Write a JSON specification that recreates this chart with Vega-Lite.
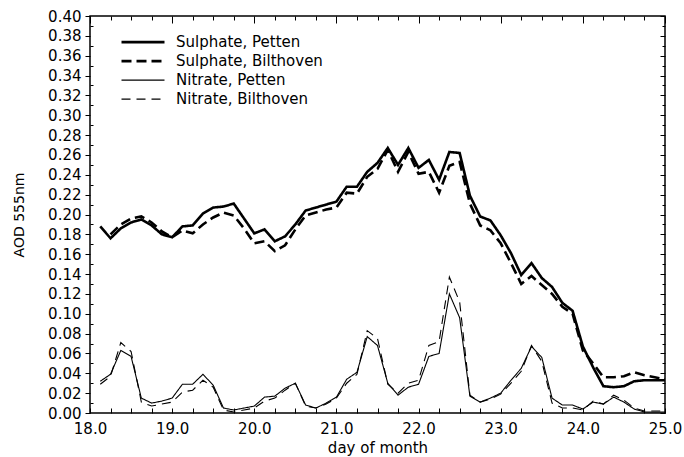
{
  "$schema": "https://vega.github.io/schema/vega-lite/v6.json",
  "width": 575,
  "height": 397,
  "autosize": {"type": "none"},
  "padding": {"left": 90, "top": 16, "right": 19, "bottom": 44},
  "background": "white",
  "config": {
    "view": {"stroke": "#000", "strokeWidth": 1.5},
    "font": "DejaVu Sans",
    "axis": {"labelFont": "DejaVu Sans", "titleFont": "DejaVu Sans", "labelColor": "#000", "titleColor": "#000", "tickColor": "#000", "domain": false, "grid": false, "titleFontWeight": "normal"},
    "legend": {"labelFont": "DejaVu Sans"}
  },
  "datasets": {
    "d": [
      {"day":18.125,"series":"Sulphate, Petten","aod":0.188},
      {"day":18.25,"series":"Sulphate, Petten","aod":0.176},
      {"day":18.375,"series":"Sulphate, Petten","aod":0.186},
      {"day":18.5,"series":"Sulphate, Petten","aod":0.192},
      {"day":18.625,"series":"Sulphate, Petten","aod":0.195},
      {"day":18.75,"series":"Sulphate, Petten","aod":0.189},
      {"day":18.875,"series":"Sulphate, Petten","aod":0.180},
      {"day":19.0,"series":"Sulphate, Petten","aod":0.177},
      {"day":19.125,"series":"Sulphate, Petten","aod":0.188},
      {"day":19.25,"series":"Sulphate, Petten","aod":0.189},
      {"day":19.375,"series":"Sulphate, Petten","aod":0.201},
      {"day":19.5,"series":"Sulphate, Petten","aod":0.207},
      {"day":19.625,"series":"Sulphate, Petten","aod":0.208},
      {"day":19.75,"series":"Sulphate, Petten","aod":0.211},
      {"day":19.875,"series":"Sulphate, Petten","aod":0.196},
      {"day":20.0,"series":"Sulphate, Petten","aod":0.181},
      {"day":20.125,"series":"Sulphate, Petten","aod":0.185},
      {"day":20.25,"series":"Sulphate, Petten","aod":0.173},
      {"day":20.375,"series":"Sulphate, Petten","aod":0.178},
      {"day":20.5,"series":"Sulphate, Petten","aod":0.190},
      {"day":20.625,"series":"Sulphate, Petten","aod":0.204},
      {"day":20.75,"series":"Sulphate, Petten","aod":0.207},
      {"day":20.875,"series":"Sulphate, Petten","aod":0.210},
      {"day":21.0,"series":"Sulphate, Petten","aod":0.213},
      {"day":21.125,"series":"Sulphate, Petten","aod":0.228},
      {"day":21.25,"series":"Sulphate, Petten","aod":0.228},
      {"day":21.375,"series":"Sulphate, Petten","aod":0.243},
      {"day":21.5,"series":"Sulphate, Petten","aod":0.252},
      {"day":21.625,"series":"Sulphate, Petten","aod":0.267},
      {"day":21.75,"series":"Sulphate, Petten","aod":0.250},
      {"day":21.875,"series":"Sulphate, Petten","aod":0.267},
      {"day":22.0,"series":"Sulphate, Petten","aod":0.247},
      {"day":22.125,"series":"Sulphate, Petten","aod":0.255},
      {"day":22.25,"series":"Sulphate, Petten","aod":0.235},
      {"day":22.375,"series":"Sulphate, Petten","aod":0.263},
      {"day":22.5,"series":"Sulphate, Petten","aod":0.262},
      {"day":22.625,"series":"Sulphate, Petten","aod":0.219},
      {"day":22.75,"series":"Sulphate, Petten","aod":0.198},
      {"day":22.875,"series":"Sulphate, Petten","aod":0.194},
      {"day":23.0,"series":"Sulphate, Petten","aod":0.179},
      {"day":23.125,"series":"Sulphate, Petten","aod":0.161},
      {"day":23.25,"series":"Sulphate, Petten","aod":0.139},
      {"day":23.375,"series":"Sulphate, Petten","aod":0.151},
      {"day":23.5,"series":"Sulphate, Petten","aod":0.136},
      {"day":23.625,"series":"Sulphate, Petten","aod":0.127},
      {"day":23.75,"series":"Sulphate, Petten","aod":0.111},
      {"day":23.875,"series":"Sulphate, Petten","aod":0.103},
      {"day":24.0,"series":"Sulphate, Petten","aod":0.067},
      {"day":24.125,"series":"Sulphate, Petten","aod":0.046},
      {"day":24.25,"series":"Sulphate, Petten","aod":0.027},
      {"day":24.375,"series":"Sulphate, Petten","aod":0.026},
      {"day":24.5,"series":"Sulphate, Petten","aod":0.027},
      {"day":24.625,"series":"Sulphate, Petten","aod":0.032},
      {"day":24.75,"series":"Sulphate, Petten","aod":0.033},
      {"day":24.875,"series":"Sulphate, Petten","aod":0.033},
      {"day":25.0,"series":"Sulphate, Petten","aod":0.033},

      {"day":18.25,"series":"Sulphate, Bilthoven","aod":0.180},
      {"day":18.375,"series":"Sulphate, Bilthoven","aod":0.190},
      {"day":18.5,"series":"Sulphate, Bilthoven","aod":0.196},
      {"day":18.625,"series":"Sulphate, Bilthoven","aod":0.198},
      {"day":18.75,"series":"Sulphate, Bilthoven","aod":0.192},
      {"day":18.875,"series":"Sulphate, Bilthoven","aod":0.183},
      {"day":19.0,"series":"Sulphate, Bilthoven","aod":0.177},
      {"day":19.125,"series":"Sulphate, Bilthoven","aod":0.184},
      {"day":19.25,"series":"Sulphate, Bilthoven","aod":0.181},
      {"day":19.375,"series":"Sulphate, Bilthoven","aod":0.190},
      {"day":19.5,"series":"Sulphate, Bilthoven","aod":0.197},
      {"day":19.625,"series":"Sulphate, Bilthoven","aod":0.202},
      {"day":19.75,"series":"Sulphate, Bilthoven","aod":0.199},
      {"day":19.875,"series":"Sulphate, Bilthoven","aod":0.186},
      {"day":20.0,"series":"Sulphate, Bilthoven","aod":0.171},
      {"day":20.125,"series":"Sulphate, Bilthoven","aod":0.173},
      {"day":20.25,"series":"Sulphate, Bilthoven","aod":0.163},
      {"day":20.375,"series":"Sulphate, Bilthoven","aod":0.169},
      {"day":20.5,"series":"Sulphate, Bilthoven","aod":0.185},
      {"day":20.625,"series":"Sulphate, Bilthoven","aod":0.199},
      {"day":20.75,"series":"Sulphate, Bilthoven","aod":0.202},
      {"day":20.875,"series":"Sulphate, Bilthoven","aod":0.205},
      {"day":21.0,"series":"Sulphate, Bilthoven","aod":0.207},
      {"day":21.125,"series":"Sulphate, Bilthoven","aod":0.222},
      {"day":21.25,"series":"Sulphate, Bilthoven","aod":0.221},
      {"day":21.375,"series":"Sulphate, Bilthoven","aod":0.238},
      {"day":21.5,"series":"Sulphate, Bilthoven","aod":0.246},
      {"day":21.625,"series":"Sulphate, Bilthoven","aod":0.265},
      {"day":21.75,"series":"Sulphate, Bilthoven","aod":0.243},
      {"day":21.875,"series":"Sulphate, Bilthoven","aod":0.263},
      {"day":22.0,"series":"Sulphate, Bilthoven","aod":0.241},
      {"day":22.125,"series":"Sulphate, Bilthoven","aod":0.243},
      {"day":22.25,"series":"Sulphate, Bilthoven","aod":0.222},
      {"day":22.375,"series":"Sulphate, Bilthoven","aod":0.249},
      {"day":22.5,"series":"Sulphate, Bilthoven","aod":0.253},
      {"day":22.625,"series":"Sulphate, Bilthoven","aod":0.211},
      {"day":22.75,"series":"Sulphate, Bilthoven","aod":0.189},
      {"day":22.875,"series":"Sulphate, Bilthoven","aod":0.184},
      {"day":23.0,"series":"Sulphate, Bilthoven","aod":0.171},
      {"day":23.125,"series":"Sulphate, Bilthoven","aod":0.151},
      {"day":23.25,"series":"Sulphate, Bilthoven","aod":0.130},
      {"day":23.375,"series":"Sulphate, Bilthoven","aod":0.138},
      {"day":23.5,"series":"Sulphate, Bilthoven","aod":0.129},
      {"day":23.625,"series":"Sulphate, Bilthoven","aod":0.120},
      {"day":23.75,"series":"Sulphate, Bilthoven","aod":0.107},
      {"day":23.875,"series":"Sulphate, Bilthoven","aod":0.100},
      {"day":24.0,"series":"Sulphate, Bilthoven","aod":0.063},
      {"day":24.125,"series":"Sulphate, Bilthoven","aod":0.050},
      {"day":24.25,"series":"Sulphate, Bilthoven","aod":0.036},
      {"day":24.375,"series":"Sulphate, Bilthoven","aod":0.036},
      {"day":24.5,"series":"Sulphate, Bilthoven","aod":0.037},
      {"day":24.625,"series":"Sulphate, Bilthoven","aod":0.041},
      {"day":24.75,"series":"Sulphate, Bilthoven","aod":0.038},
      {"day":24.875,"series":"Sulphate, Bilthoven","aod":0.036},
      {"day":25.0,"series":"Sulphate, Bilthoven","aod":0.034},

      {"day":18.125,"series":"Nitrate, Petten","aod":0.032},
      {"day":18.25,"series":"Nitrate, Petten","aod":0.039},
      {"day":18.375,"series":"Nitrate, Petten","aod":0.063},
      {"day":18.5,"series":"Nitrate, Petten","aod":0.057},
      {"day":18.625,"series":"Nitrate, Petten","aod":0.015},
      {"day":18.75,"series":"Nitrate, Petten","aod":0.010},
      {"day":18.875,"series":"Nitrate, Petten","aod":0.012},
      {"day":19.0,"series":"Nitrate, Petten","aod":0.015},
      {"day":19.125,"series":"Nitrate, Petten","aod":0.029},
      {"day":19.25,"series":"Nitrate, Petten","aod":0.029},
      {"day":19.375,"series":"Nitrate, Petten","aod":0.039},
      {"day":19.5,"series":"Nitrate, Petten","aod":0.028},
      {"day":19.625,"series":"Nitrate, Petten","aod":0.005},
      {"day":19.75,"series":"Nitrate, Petten","aod":0.003},
      {"day":19.875,"series":"Nitrate, Petten","aod":0.005},
      {"day":20.0,"series":"Nitrate, Petten","aod":0.007},
      {"day":20.125,"series":"Nitrate, Petten","aod":0.016},
      {"day":20.25,"series":"Nitrate, Petten","aod":0.017},
      {"day":20.375,"series":"Nitrate, Petten","aod":0.025},
      {"day":20.5,"series":"Nitrate, Petten","aod":0.030},
      {"day":20.625,"series":"Nitrate, Petten","aod":0.008},
      {"day":20.75,"series":"Nitrate, Petten","aod":0.005},
      {"day":20.875,"series":"Nitrate, Petten","aod":0.010},
      {"day":21.0,"series":"Nitrate, Petten","aod":0.016},
      {"day":21.125,"series":"Nitrate, Petten","aod":0.034},
      {"day":21.25,"series":"Nitrate, Petten","aod":0.041},
      {"day":21.375,"series":"Nitrate, Petten","aod":0.077},
      {"day":21.5,"series":"Nitrate, Petten","aod":0.068},
      {"day":21.625,"series":"Nitrate, Petten","aod":0.030},
      {"day":21.75,"series":"Nitrate, Petten","aod":0.018},
      {"day":21.875,"series":"Nitrate, Petten","aod":0.026},
      {"day":22.0,"series":"Nitrate, Petten","aod":0.029},
      {"day":22.125,"series":"Nitrate, Petten","aod":0.057},
      {"day":22.25,"series":"Nitrate, Petten","aod":0.060},
      {"day":22.375,"series":"Nitrate, Petten","aod":0.120},
      {"day":22.5,"series":"Nitrate, Petten","aod":0.096},
      {"day":22.625,"series":"Nitrate, Petten","aod":0.017},
      {"day":22.75,"series":"Nitrate, Petten","aod":0.011},
      {"day":22.875,"series":"Nitrate, Petten","aod":0.015},
      {"day":23.0,"series":"Nitrate, Petten","aod":0.020},
      {"day":23.125,"series":"Nitrate, Petten","aod":0.033},
      {"day":23.25,"series":"Nitrate, Petten","aod":0.045},
      {"day":23.375,"series":"Nitrate, Petten","aod":0.067},
      {"day":23.5,"series":"Nitrate, Petten","aod":0.056},
      {"day":23.625,"series":"Nitrate, Petten","aod":0.015},
      {"day":23.75,"series":"Nitrate, Petten","aod":0.008},
      {"day":23.875,"series":"Nitrate, Petten","aod":0.008},
      {"day":24.0,"series":"Nitrate, Petten","aod":0.004},
      {"day":24.125,"series":"Nitrate, Petten","aod":0.011},
      {"day":24.25,"series":"Nitrate, Petten","aod":0.009},
      {"day":24.375,"series":"Nitrate, Petten","aod":0.016},
      {"day":24.5,"series":"Nitrate, Petten","aod":0.011},
      {"day":24.625,"series":"Nitrate, Petten","aod":0.004},
      {"day":24.75,"series":"Nitrate, Petten","aod":0.001},
      {"day":24.875,"series":"Nitrate, Petten","aod":0.001},
      {"day":25.0,"series":"Nitrate, Petten","aod":0.001},

      {"day":18.125,"series":"Nitrate, Bilthoven","aod":0.029},
      {"day":18.25,"series":"Nitrate, Bilthoven","aod":0.037},
      {"day":18.375,"series":"Nitrate, Bilthoven","aod":0.071},
      {"day":18.5,"series":"Nitrate, Bilthoven","aod":0.062},
      {"day":18.625,"series":"Nitrate, Bilthoven","aod":0.011},
      {"day":18.75,"series":"Nitrate, Bilthoven","aod":0.007},
      {"day":18.875,"series":"Nitrate, Bilthoven","aod":0.009},
      {"day":19.0,"series":"Nitrate, Bilthoven","aod":0.011},
      {"day":19.125,"series":"Nitrate, Bilthoven","aod":0.021},
      {"day":19.25,"series":"Nitrate, Bilthoven","aod":0.023},
      {"day":19.375,"series":"Nitrate, Bilthoven","aod":0.033},
      {"day":19.5,"series":"Nitrate, Bilthoven","aod":0.026},
      {"day":19.625,"series":"Nitrate, Bilthoven","aod":0.003},
      {"day":19.75,"series":"Nitrate, Bilthoven","aod":0.001},
      {"day":19.875,"series":"Nitrate, Bilthoven","aod":0.003},
      {"day":20.0,"series":"Nitrate, Bilthoven","aod":0.005},
      {"day":20.125,"series":"Nitrate, Bilthoven","aod":0.012},
      {"day":20.25,"series":"Nitrate, Bilthoven","aod":0.015},
      {"day":20.375,"series":"Nitrate, Bilthoven","aod":0.023},
      {"day":20.5,"series":"Nitrate, Bilthoven","aod":0.030},
      {"day":20.625,"series":"Nitrate, Bilthoven","aod":0.007},
      {"day":20.75,"series":"Nitrate, Bilthoven","aod":0.005},
      {"day":20.875,"series":"Nitrate, Bilthoven","aod":0.009},
      {"day":21.0,"series":"Nitrate, Bilthoven","aod":0.015},
      {"day":21.125,"series":"Nitrate, Bilthoven","aod":0.030},
      {"day":21.25,"series":"Nitrate, Bilthoven","aod":0.039},
      {"day":21.375,"series":"Nitrate, Bilthoven","aod":0.083},
      {"day":21.5,"series":"Nitrate, Bilthoven","aod":0.075},
      {"day":21.625,"series":"Nitrate, Bilthoven","aod":0.029},
      {"day":21.75,"series":"Nitrate, Bilthoven","aod":0.020},
      {"day":21.875,"series":"Nitrate, Bilthoven","aod":0.030},
      {"day":22.0,"series":"Nitrate, Bilthoven","aod":0.033},
      {"day":22.125,"series":"Nitrate, Bilthoven","aod":0.068},
      {"day":22.25,"series":"Nitrate, Bilthoven","aod":0.072},
      {"day":22.375,"series":"Nitrate, Bilthoven","aod":0.137},
      {"day":22.5,"series":"Nitrate, Bilthoven","aod":0.112},
      {"day":22.625,"series":"Nitrate, Bilthoven","aod":0.018},
      {"day":22.75,"series":"Nitrate, Bilthoven","aod":0.011},
      {"day":22.875,"series":"Nitrate, Bilthoven","aod":0.014},
      {"day":23.0,"series":"Nitrate, Bilthoven","aod":0.019},
      {"day":23.125,"series":"Nitrate, Bilthoven","aod":0.030},
      {"day":23.25,"series":"Nitrate, Bilthoven","aod":0.042},
      {"day":23.375,"series":"Nitrate, Bilthoven","aod":0.068},
      {"day":23.5,"series":"Nitrate, Bilthoven","aod":0.052},
      {"day":23.625,"series":"Nitrate, Bilthoven","aod":0.010},
      {"day":23.75,"series":"Nitrate, Bilthoven","aod":0.005},
      {"day":23.875,"series":"Nitrate, Bilthoven","aod":0.005},
      {"day":24.0,"series":"Nitrate, Bilthoven","aod":0.003},
      {"day":24.125,"series":"Nitrate, Bilthoven","aod":0.012},
      {"day":24.25,"series":"Nitrate, Bilthoven","aod":0.009},
      {"day":24.375,"series":"Nitrate, Bilthoven","aod":0.018},
      {"day":24.5,"series":"Nitrate, Bilthoven","aod":0.013},
      {"day":24.625,"series":"Nitrate, Bilthoven","aod":0.005},
      {"day":24.75,"series":"Nitrate, Bilthoven","aod":0.002},
      {"day":24.875,"series":"Nitrate, Bilthoven","aod":0.002},
      {"day":25.0,"series":"Nitrate, Bilthoven","aod":0.002}
    ]
  },
  "data": {"name": "d"},
  "resolve": {"axis": {"x": "independent", "y": "independent"}},
  "layer": [
    {
      "mark": {"type": "line", "color": "#000", "strokeJoin": "miter", "clip": true},
      "encoding": {
        "x": {"field": "day", "type": "quantitative", "scale": {"domain": [18, 25], "nice": false, "zero": false},
          "axis": {"orient": "bottom", "title": "day of month", "format": ".1f", "values": [18,19,20,21,22,23,24,25], "tickSize": 0, "labelPadding": 8, "labelFontSize": 15, "titleFontSize": 15, "titlePadding": 4, "labelFlush": false}},
        "y": {"field": "aod", "type": "quantitative", "scale": {"domain": [0, 0.4], "nice": false, "zero": true},
          "axis": {"orient": "left", "title": "AOD 555nm", "format": ".2f", "values": [0,0.02,0.04,0.06,0.08,0.1,0.12,0.14,0.16,0.18,0.2,0.22,0.24,0.26,0.28,0.3,0.32,0.34,0.36,0.38,0.4], "tickSize": 5, "tickWidth": 1, "labelPadding": 4, "labelFontSize": 15, "titleFontSize": 14, "titlePadding": 21}},
        "detail": {"field": "series", "type": "nominal"},
        "strokeDash": {"field": "series", "type": "nominal",
          "scale": {"type": "ordinal", "domain": ["Sulphate, Petten", "Sulphate, Bilthoven", "Nitrate, Petten", "Nitrate, Bilthoven"], "range": [[1, 0], [10, 5], [1, 0], [9, 6]]},
          "legend": {"title": null, "orient": "none", "legendX": 30, "legendY": 17, "symbolType": "stroke", "symbolSize": 1849, "symbolStrokeColor": "#000", "labelFontSize": 15, "labelOffset": 10, "clipHeight": 18.3, "rowPadding": 0, "labelColor": "#000"}},
        "strokeWidth": {"field": "series", "type": "nominal",
          "scale": {"type": "ordinal", "domain": ["Sulphate, Petten", "Sulphate, Bilthoven", "Nitrate, Petten", "Nitrate, Bilthoven"], "range": [2.6, 2.6, 1.1, 1.1]},
          "legend": {"title": null, "orient": "none", "legendX": 30, "legendY": 17, "symbolType": "stroke", "symbolSize": 1849, "symbolStrokeColor": "#000", "labelFontSize": 15, "labelOffset": 10, "clipHeight": 18.3, "rowPadding": 0, "labelColor": "#000"}}
      }
    },
    {
      "mark": {"type": "line", "strokeOpacity": 0},
      "encoding": {
        "x": {"field": "day", "type": "quantitative",
          "axis": {"orient": "bottom", "title": null, "labels": false, "offset": -5, "tickSize": 5, "values": [18,18.25,18.5,18.75,19,19.25,19.5,19.75,20,20.25,20.5,20.75,21,21.25,21.5,21.75,22,22.25,22.5,22.75,23,23.25,23.5,23.75,24,24.25,24.5,24.75,25]}},
        "y": {"field": "aod", "type": "quantitative",
          "axis": {"orient": "left", "title": null, "labels": false, "offset": -3, "tickSize": 3, "values": [0.01,0.03,0.05,0.07,0.09,0.11,0.13,0.15,0.17,0.19,0.21,0.23,0.25,0.27,0.29,0.31,0.33,0.35,0.37,0.39]}},
        "detail": {"field": "series", "type": "nominal"}
      }
    },
    {
      "mark": {"type": "line", "strokeOpacity": 0},
      "encoding": {
        "x": {"field": "day", "type": "quantitative",
          "axis": {"orient": "top", "title": null, "labels": false, "offset": -4, "tickSize": 4, "values": [18.25,18.5,18.75,19.25,19.5,19.75,20.25,20.5,20.75,21.25,21.5,21.75,22.25,22.5,22.75,23.25,23.5,23.75,24.25,24.5,24.75]}},
        "y": {"field": "aod", "type": "quantitative",
          "axis": {"orient": "right", "title": null, "labels": false, "offset": -3, "tickSize": 3, "values": [0.01,0.03,0.05,0.07,0.09,0.11,0.13,0.15,0.17,0.19,0.21,0.23,0.25,0.27,0.29,0.31,0.33,0.35,0.37,0.39]}},
        "detail": {"field": "series", "type": "nominal"}
      }
    },
    {
      "mark": {"type": "line", "strokeOpacity": 0},
      "encoding": {
        "x": {"field": "day", "type": "quantitative",
          "axis": {"orient": "top", "title": null, "labels": false, "offset": -7, "tickSize": 7, "values": [18,19,20,21,22,23,24,25]}},
        "y": {"field": "aod", "type": "quantitative",
          "axis": {"orient": "right", "title": null, "labels": false, "offset": -5, "tickSize": 5, "values": [0,0.02,0.04,0.06,0.08,0.1,0.12,0.14,0.16,0.18,0.2,0.22,0.24,0.26,0.28,0.3,0.32,0.34,0.36,0.38,0.4]}},
        "detail": {"field": "series", "type": "nominal"}
      }
    }
  ]
}
